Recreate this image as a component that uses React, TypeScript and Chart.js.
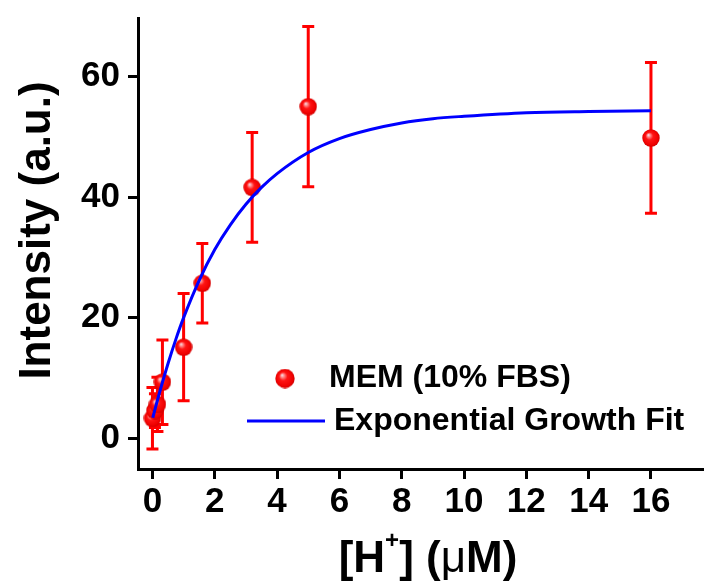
import { useEffect, useRef } from 'react';
import { Chart, registerables } from 'chart.js';

Chart.register(...registerables);

// ---- data ----
const concentrations = [0, 0.08, 0.16, 0.32, 1, 1.6, 3.2, 5, 16];
const intensities = [3.3, 4.6, 5.6, 9.3, 15.1, 25.7, 41.6, 55.0, 49.8];
const errors = [5.1, 2.8, 4.5, 7.0, 8.9, 6.6, 9.1, 13.3, 12.5];

const fitX = [0.01, 0.25, 0.5, 0.75, 1, 1.5, 2, 2.5, 3, 3.5, 4, 5, 6, 7, 8, 9, 10, 12, 14, 16];
const fitY = [3.4, 8.0, 12.4, 16.4, 20.0, 26.2, 31.3, 35.4, 38.8, 41.6, 43.9, 47.4, 49.7, 51.2, 52.3, 53.0, 53.4, 54.0, 54.2, 54.3];

const xTicks = [0, 2, 4, 6, 8, 10, 12, 14, 16];
const yTicks = [0, 20, 40, 60];

const seriesLabels = ['MEM (10% FBS)', 'Exponential Growth Fit'];
const xTitleParts = ['[H', '+', '] (', 'μ', 'M)'];
const yTitle = 'Intensity (a.u.)';

const FONT = '"Liberation Sans", Arial, Helvetica, sans-serif';
const RED = '#ff0000';
const BLUE = '#0000ff';

function makeSphere(size: number): HTMLCanvasElement {
  const c = document.createElement('canvas');
  c.width = size;
  c.height = size;
  const g = c.getContext('2d')!;
  const r = size / 2;
  const grad = g.createRadialGradient(r * 0.7, r * 0.65, 0, r, r, r);
  grad.addColorStop(0, '#f6eaf4');
  grad.addColorStop(0.18, '#ff8a8a');
  grad.addColorStop(0.42, '#ff1414');
  grad.addColorStop(0.85, '#ee0000');
  grad.addColorStop(1, '#c40000');
  g.fillStyle = grad;
  g.beginPath();
  g.arc(r, r, r - 0.3, 0, Math.PI * 2);
  g.fill();
  return c;
}

export default function App() {
  const ref = useRef<HTMLCanvasElement | null>(null);

  useEffect(() => {
    document.body.style.margin = '0';
    const canvas = ref.current;
    if (!canvas) return;
    const sphere = makeSphere(18);
    const legendSphere = makeSphere(20);

    const errorBars = {
      id: 'errorBars',
      beforeDatasetsDraw(chart: any) {
        const meta = chart.getDatasetMeta(0);
        const ys = chart.scales.y;
        const ctx = chart.ctx;
        ctx.save();
        ctx.strokeStyle = RED;
        ctx.lineWidth = 3;
        meta.data.forEach((pt: any, i: number) => {
          const x = pt.x;
          const top = ys.getPixelForValue(intensities[i] + errors[i]);
          const bot = ys.getPixelForValue(intensities[i] - errors[i]);
          ctx.beginPath();
          ctx.moveTo(x, top);
          ctx.lineTo(x, bot);
          ctx.moveTo(x - 6, top);
          ctx.lineTo(x + 6, top);
          ctx.moveTo(x - 6, bot);
          ctx.lineTo(x + 6, bot);
          ctx.stroke();
        });
        ctx.restore();
      },
    };

    const decorations = {
      id: 'decorations',
      afterDraw(chart: any) {
        const ctx = chart.ctx;
        const area = chart.chartArea;
        ctx.save();
        ctx.fillStyle = '#000';

        // y title
        ctx.save();
        ctx.translate(50, 230.5);
        ctx.rotate(-Math.PI / 2);
        ctx.font = `bold 44px ${FONT}`;
        ctx.textAlign = 'center';
        ctx.textBaseline = 'alphabetic';
        ctx.fillText(yTitle, 0, 0);
        ctx.restore();

        // x title with superscript
        const parts = [
          { t: xTitleParts[0], f: `bold 44px ${FONT}`, dy: 0 },
          { t: xTitleParts[1], f: `bold 24px ${FONT}`, dy: -24 },
          { t: xTitleParts[2], f: `bold 44px ${FONT}`, dy: 0 },
          { t: xTitleParts[3], f: `44px ${FONT}`, dy: 0 },
          { t: xTitleParts[4], f: `bold 44px ${FONT}`, dy: 0 },
        ];
        let total = 0;
        const widths = parts.map((p) => {
          ctx.font = p.f;
          const w = ctx.measureText(p.t).width;
          total += w;
          return w;
        });
        let x = 428 - total / 2;
        ctx.textAlign = 'left';
        ctx.textBaseline = 'alphabetic';
        parts.forEach((p, i) => {
          ctx.font = p.f;
          ctx.fillText(p.t, x, 572 + p.dy);
          x += widths[i];
        });

        // legend
        const lx = area.left + 147;
        const row1 = 378.5;
        const row2 = 421;
        ctx.drawImage(legendSphere, lx - 10, row1 - 10, 20, 20);
        ctx.strokeStyle = BLUE;
        ctx.lineWidth = 3;
        ctx.beginPath();
        ctx.moveTo(lx - 38, row2);
        ctx.lineTo(lx + 40, row2);
        ctx.stroke();
        ctx.font = `bold 32px ${FONT}`;
        ctx.textBaseline = 'middle';
        ctx.textAlign = 'left';
        ctx.fillText(seriesLabels[0], lx + 44, row1);
        ctx.fillText(seriesLabels[1], lx + 49, row2);
        ctx.restore();
      },
    };

    const noPad = (s: any) => {
      s.paddingTop = 0;
      s.paddingBottom = 0;
      s.paddingLeft = 0;
      s.paddingRight = 0;
    };

    const chart = new Chart(canvas, {
      type: 'scatter',
      data: {
        datasets: [
          {
            label: seriesLabels[0],
            data: concentrations.map((c, i) => ({ x: c, y: intensities[i] })),
            pointStyle: sphere as any,
            pointRadius: 9,
            showLine: false,
            order: 2,
          },
          {
            type: 'line',
            label: seriesLabels[1],
            data: fitX.map((c, i) => ({ x: c, y: fitY[i] })),
            borderColor: BLUE,
            borderWidth: 3,
            pointRadius: 0,
            fill: false,
            cubicInterpolationMode: 'monotone',
            order: 1,
          } as any,
        ],
      },
      options: {
        responsive: false,
        animation: false,
        events: [],
        layout: { padding: { top: 18, right: 0, left: 0, bottom: 0 } },
        plugins: {
          legend: { display: false },
          tooltip: { enabled: false },
          title: { display: false },
        },
        scales: {
          x: {
            type: 'linear',
            min: -0.464,
            max: 17.67,
            afterFit: (s: any) => {
              s.height = 112;
              noPad(s);
            },
            afterBuildTicks: (s: any) => {
              s.ticks = xTicks.map((v) => ({ value: v }));
            },
            grid: {
              drawOnChartArea: false,
              drawTicks: true,
              tickLength: 10,
              tickWidth: 3,
              tickColor: '#000',
            },
            border: { display: true, width: 3, color: '#000' },
            ticks: {
              color: '#000',
              font: { family: FONT, size: 35, weight: 'bold' },
              padding: 2,
              maxRotation: 0,
              autoSkip: false,
            },
          },
          y: {
            type: 'linear',
            min: -5.1,
            max: 69.7,
            afterFit: (s: any) => {
              s.width = 138;
              noPad(s);
            },
            afterBuildTicks: (s: any) => {
              s.ticks = yTicks.map((v) => ({ value: v }));
            },
            grid: {
              drawOnChartArea: false,
              drawTicks: true,
              tickLength: 10,
              tickWidth: 3,
              tickColor: '#000',
            },
            border: { display: true, width: 3, color: '#000' },
            ticks: {
              color: '#000',
              font: { family: FONT, size: 35, weight: 'bold' },
              padding: 8,
              autoSkip: false,
            },
          },
        },
      },
      plugins: [errorBars, decorations],
    } as any);

    return () => chart.destroy();
  }, []);

  return (
    <div style={{ position: 'absolute', left: 0, top: 0, width: 713, height: 581, background: '#fff' }}>
      <canvas ref={ref} width={713} height={581} style={{ display: 'block' }} />
    </div>
  );
}
